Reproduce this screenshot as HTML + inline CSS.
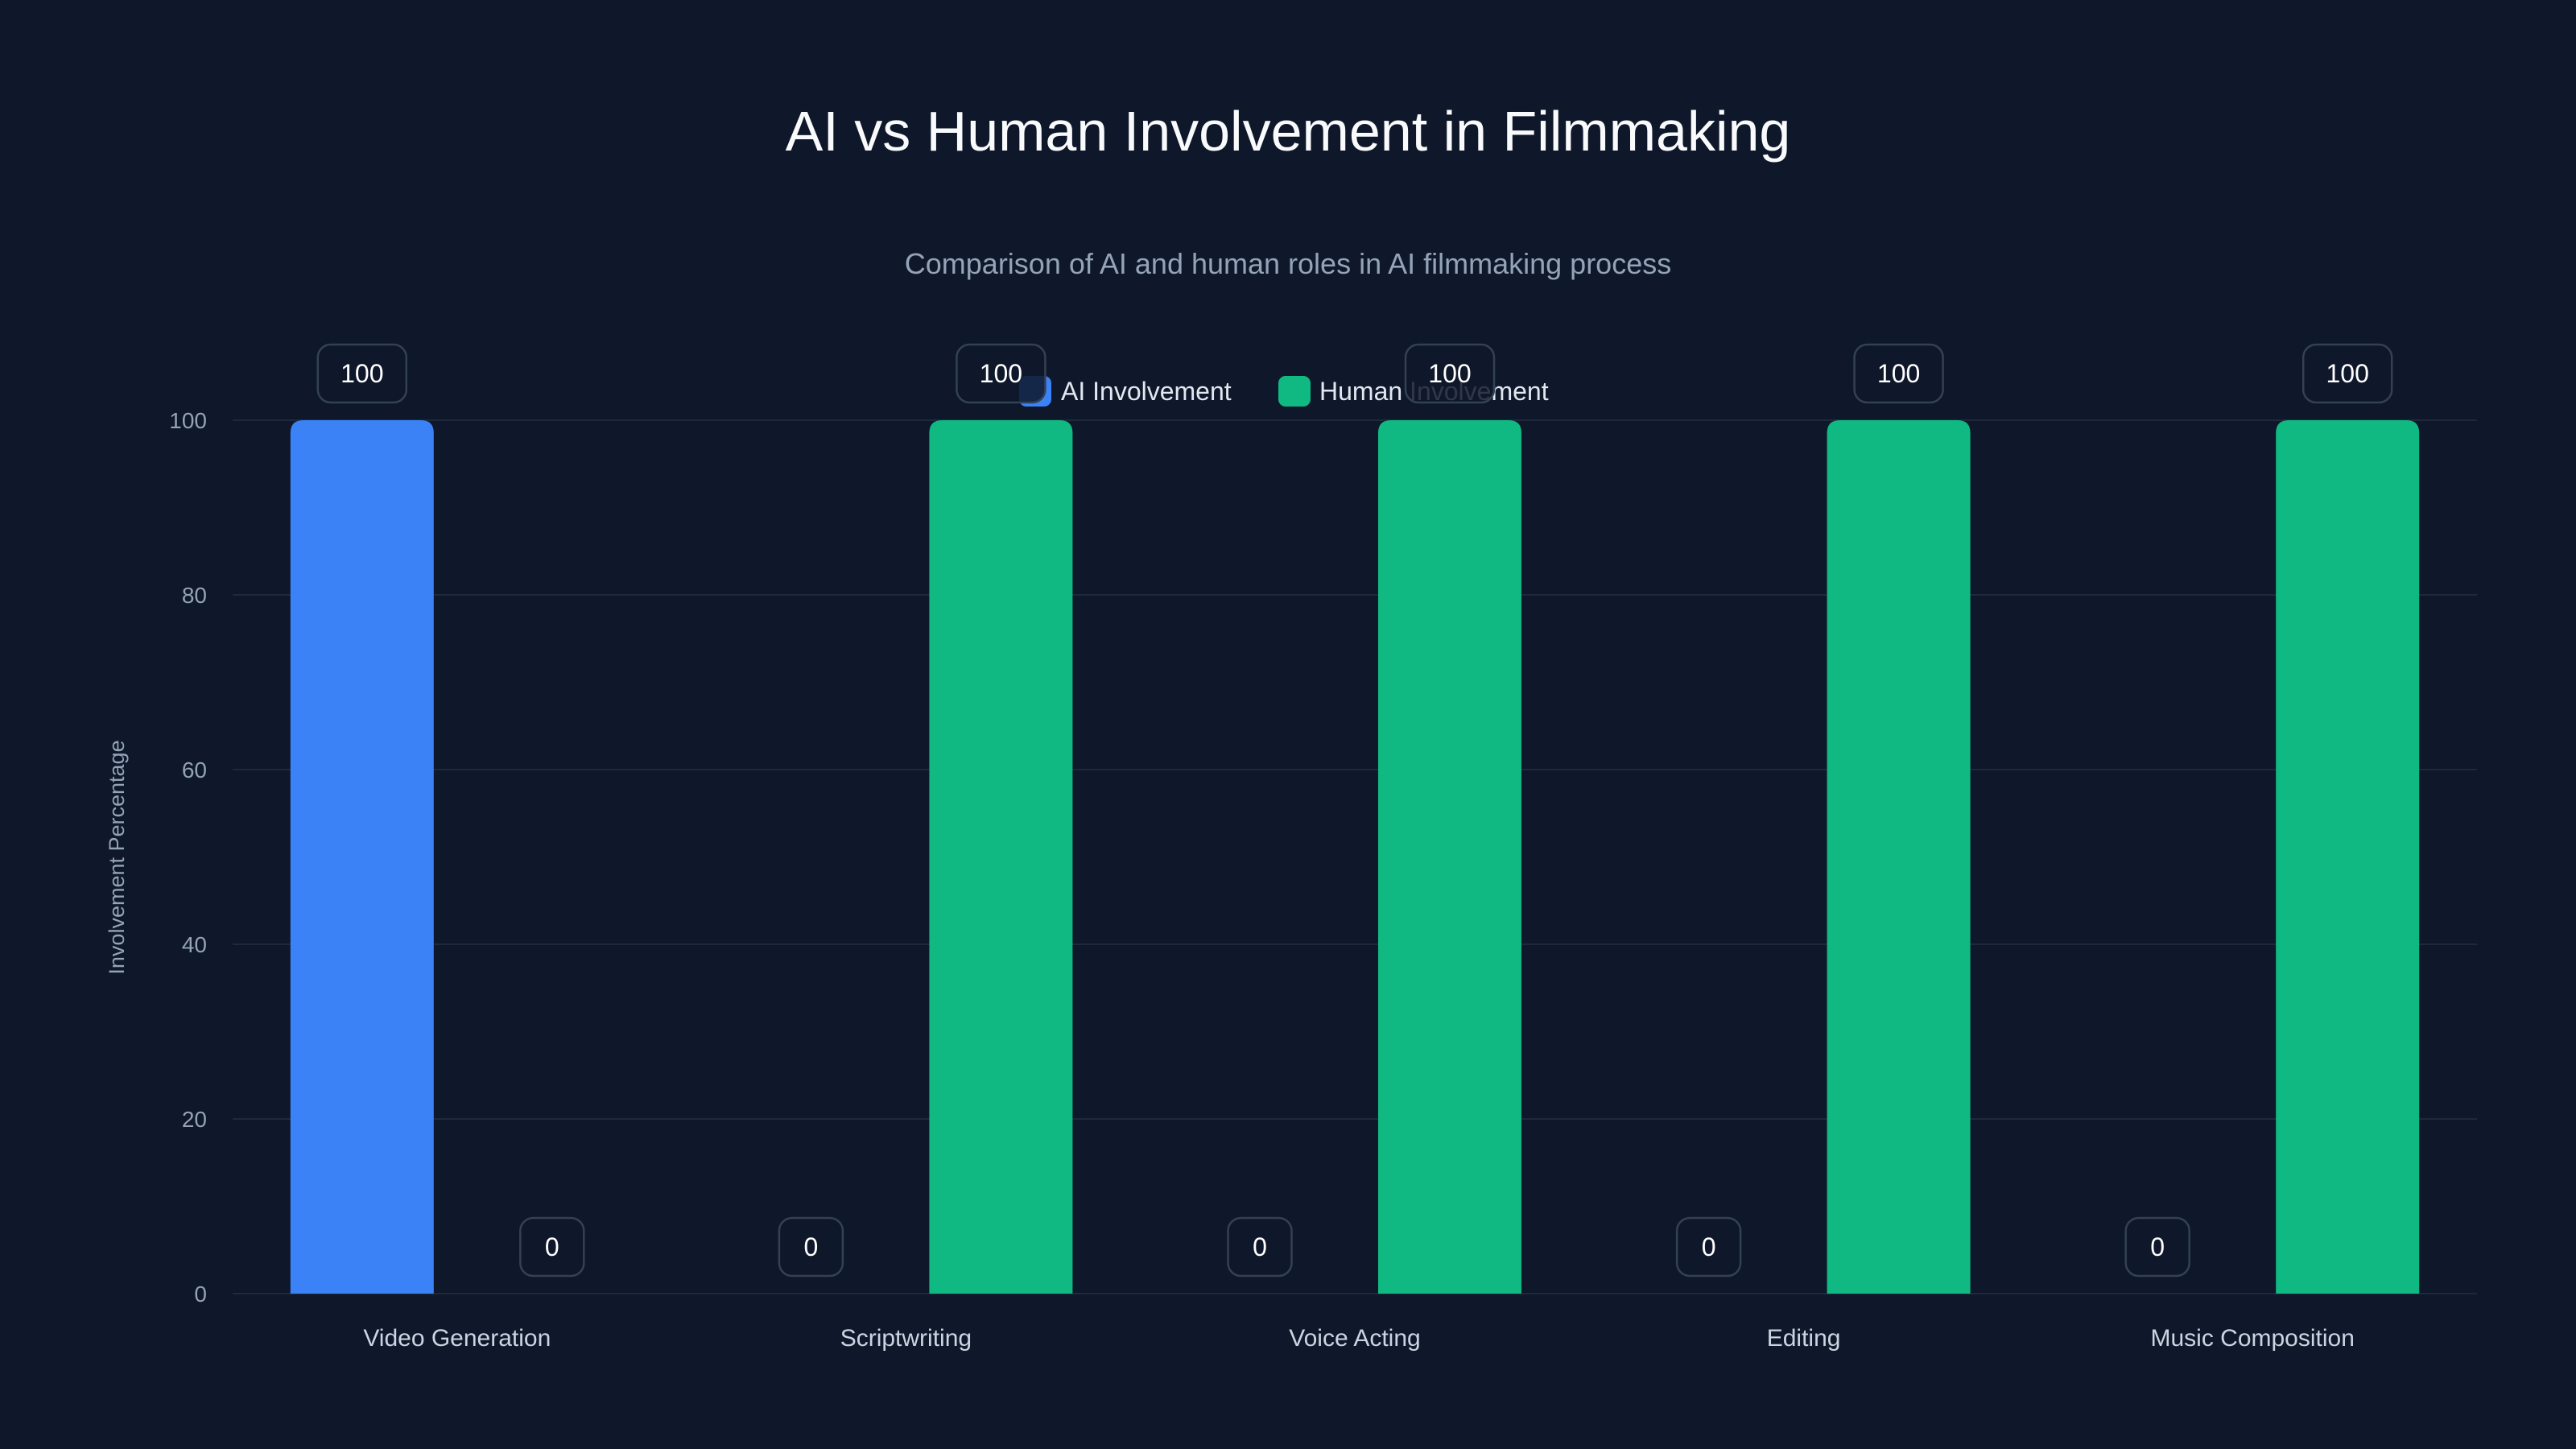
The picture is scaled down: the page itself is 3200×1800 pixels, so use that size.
<!DOCTYPE html>
<html><head><meta charset="utf-8">
<style>
html,body{margin:0;padding:0;background:#0f172a;}
svg{display:block;font-family:"Liberation Sans",sans-serif;}
</style></head>
<body>
<svg id="chart" width="3200" height="1800" viewBox="0 0 3200 1800">
<rect width="3200" height="1800" fill="#0f172a"/>
<text x="1600" y="187" text-anchor="middle" font-size="70" fill="#f8fafc">AI vs Human Involvement in Filmmaking</text>
<text x="1600" y="340" text-anchor="middle" font-size="36" fill="#94a3b8">Comparison of AI and human roles in AI filmmaking process</text>
<text transform="translate(154,1065) rotate(-90)" text-anchor="middle" font-size="27" fill="#94a3b8">Involvement Percentage</text>
<g id="grid"></g>
<g id="legend">
<rect x="1266" y="467" width="40" height="38" rx="9" fill="#3b82f6"/>
<text x="1318" y="497" font-size="32" fill="#e2e8f0">AI Involvement</text>
<rect x="1588" y="467" width="40" height="38" rx="9" fill="#10b981"/>
<text x="1639" y="497" font-size="32" fill="#e2e8f0">Human Involvement</text>
</g>
<g id="bars"></g>
<g id="labels"></g>
</svg>
<script>
const categories = ["Video Generation","Scriptwriting","Voice Acting","Editing","Music Composition"];
const aiValues = [100,0,0,0,0];
const humanValues = [0,100,100,100,100];
const yTicks = [0,20,40,60,80,100];

const NS="http://www.w3.org/2000/svg";
const L=289,R=3077,Y0=1607,Y100=522;
const band=(R-L)/categories.length;
const xC=i=>L+band*(i+0.5);
const y=v=>Y0-(Y0-Y100)*v/100;
const bw=178,off=118;
function mk(tag,attrs,parent){const e=document.createElementNS(NS,tag);for(const k in attrs)e.setAttribute(k,attrs[k]);parent.appendChild(e);return e;}
const grid=document.getElementById('grid'),bars=document.getElementById('bars'),labels=document.getElementById('labels');
yTicks.forEach(t=>{
  const l=mk('line',{x1:L,x2:R,y1:y(t),y2:y(t),stroke:'#1e293b','stroke-width':2},grid);
  
  
  const tx=mk('text',{x:257,y:y(t)+10,'text-anchor':'end','font-size':28,fill:'#94a3b8'},grid);
  tx.textContent=t;
  
  
});
function barPath(x,top,bottom,w,r){
  const h=bottom-top; if(h<=0)return '';
  r=Math.min(r,h,w/2);
  return `M${x},${bottom}V${top+r}Q${x},${top} ${x+r},${top}H${x+w-r}Q${x+w},${top} ${x+w},${top+r}V${bottom}Z`;
}
function valueLabel(cx,v,name){
  const w=v>=100?110:79,h=72;
  const top=y(v)-22-h;
  const r=mk('rect',{x:cx-w/2,y:top,width:w,height:h,rx:16,fill:'rgba(15,23,42,0.85)',stroke:'#334155','stroke-width':2.5},labels);
  
  
  const t=mk('text',{x:cx,y:top+h/2+11,'text-anchor':'middle','font-size':32,fill:'#ffffff'},labels);
  t.textContent=v;
  
  
}
categories.forEach((c,i)=>{
  const cx=xC(i);
  const a=aiValues[i],h=humanValues[i];
  if(a>0){const p=mk('path',{d:barPath(cx-off-bw/2,y(a),Y0,bw,16),fill:'#3b82f6'},bars);
    
    }
  if(h>0){const p=mk('path',{d:barPath(cx+off-bw/2,y(h),Y0,bw,16),fill:'#10b981'},bars);
    
    }
  valueLabel(cx-off,a,'value-label-ai-'+i);
  valueLabel(cx+off,h,'value-label-human-'+i);
  const t=mk('text',{x:cx,y:1672,'text-anchor':'middle','font-size':30,fill:'#cbd5e1'},grid);
  t.textContent=c;
  
  
});
</script>
</body></html>
